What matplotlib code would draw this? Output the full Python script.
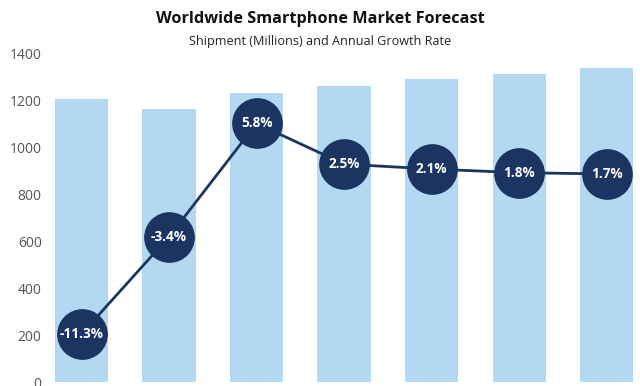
import matplotlib.pyplot as plt
import numpy as np

# shipments in millions and growth rates in %
shipments = [1204, 1161, 1231, 1261, 1290, 1313, 1336]
growth = [-11.3, -3.4, 5.8, 2.5, 2.1, 1.8, 1.7]
growth_labels = ['-11.3%', '-3.4%', '5.8%', '2.5%', '2.1%', '1.8%', '1.7%']
yticks = [0, 200, 400, 600, 800, 1000, 1200, 1400]

BAR = '#b3d8f2'
NAVY = '#1b3461'

plt.rcParams['font.family'] = ['Open Sans', 'DejaVu Sans']

fig = plt.figure(figsize=(6.4, 3.86), dpi=100)
ax = fig.add_axes([50 / 640, 4 / 386, 590 / 640, 328.7 / 386])

x = np.arange(len(shipments))
ax.bar(x, shipments, width=0.61, color=BAR, zorder=1)
ax.set_xlim(-0.36, 6.38)
ax.set_ylim(0, 1400)
ax.set_yticks(yticks)
ax.set_xticks([])
ax.tick_params(axis='y', length=0, pad=6, labelsize=10, labelcolor='#555555')
for s in ax.spines.values():
    s.set_visible(False)

# growth rate on a hidden second scale
ax2 = ax.twinx()
ax2.set_ylim(-15.2, 11.5)
ax2.plot(x, growth, color=NAVY, lw=2, zorder=2)
ax2.plot(x, growth, 'o', color=NAVY, markersize=35.5, zorder=3)
for xi, g, lab in zip(x, growth, growth_labels):
    ax2.text(xi, g, lab, color='white', fontsize=9.8, fontweight='bold',
             ha='center', va='center', zorder=4)
ax2.set_yticks([])
for s in ax2.spines.values():
    s.set_visible(False)

fig.text(0.5, 1 - 19 / 386, 'Worldwide Smartphone Market Forecast',
         ha='center', va='center', fontsize=11.7, fontweight='bold', color='#111111')
fig.text(0.5, 1 - 41 / 386, 'Shipment (Millions) and Annual Growth Rate',
         ha='center', va='center', fontsize=9.1, color='#222222')

fig.savefig('out.png', dpi=100)
